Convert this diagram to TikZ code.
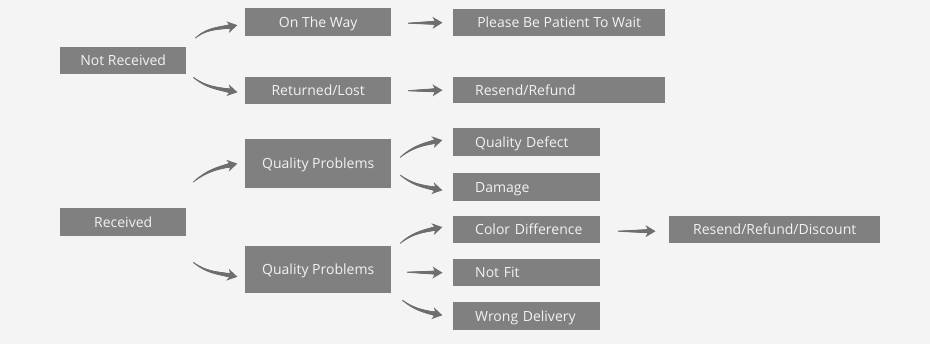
\documentclass[tikz,border=0pt]{standalone}
\usepackage{fontspec}
\setmainfont{Open Sans}
\usetikzlibrary{calc,decorations.markings}
\definecolor{bg}{RGB}{244,244,244}
\definecolor{boxgray}{RGB}{128,128,128}
\definecolor{arrowgray}{RGB}{110,110,110}
\definecolor{txt}{RGB}{242,242,242}
\tikzset{
  box/.style={fill=boxgray, text=txt, inner sep=0pt, anchor=north west,
    text height=10.5pt, text depth=0.5pt,
    font=\fontsize{14}{16}\selectfont},
  lbox/.style={box, align=left, inner xsep=0pt},
  tap/.style={postaction={decorate, decoration={markings,
    mark=between positions 0 and -6pt step 0.4pt with {%
      \pgfmathsetmacro\tr{0.5+1.9*\pgfkeysvalueof{/pgf/decoration/mark info/distance from start}/\pgfdecoratedpathlength}%
      \fill[arrowgray] (0,0) circle (\tr pt);},
    mark=at position 1 with {\fill[arrowgray] (0.5,0) -- (-9.5,6) -- (-6.5,0) -- (-9.5,-6) -- cycle;}
  }}}
}
\begin{document}
\begin{tikzpicture}[x=1pt,y=-1pt]
\fill[bg] (0,0) rectangle (930,344);
\useasboundingbox (0,0) rectangle (930,344);
% boxes
\node[box, minimum width=126, minimum height=27] (nr) at (60,47) {Not Received};
\node[box, minimum width=146, minimum height=28] (otw) at (245,8) {On The Way};
\node[box, minimum width=146, minimum height=27] (rl) at (245,77) {Returned/Lost};
\node[box, minimum width=212, minimum height=27] (pbp) at (453,9) {Please Be Patient To Wait};
\node[lbox, text width=212, minimum height=26] (rr) at (453,77) {\hspace*{22pt}Resend/Refund};
\node[box, minimum width=146, minimum height=49] (qp1) at (245,139) {Quality Problems};
\node[box, minimum width=126, minimum height=28] (rcv) at (60,208) {Received};
\node[box, minimum width=146, minimum height=47] (qp2) at (245,246) {Quality Problems};
\node[lbox, text width=147, minimum height=28] (qd) at (453,128) {\hspace*{22pt}Quality Defect};
\node[lbox, text width=147, minimum height=28] (dm) at (453,173) {\hspace*{22pt}Damage};
\node[lbox, text width=147, minimum height=27] (cd) at (453,216) {\hspace*{22pt}Color Difference};
\node[lbox, text width=147, minimum height=27] (nf) at (453,259) {\hspace*{22pt}Not Fit};
\node[lbox, text width=147, minimum height=28] (wd) at (453,302) {\hspace*{22pt}Wrong Delivery};
\node[box, minimum width=211, minimum height=27] (rrd) at (669,216) {Resend/Refund/Discount};
% arrows
\path[tap] ($(nr.north east)+(9,-9)$) to[out=40,in=192] ($(otw.west)+(-8,3)$);
\path[tap] ($(nr.south east)+(7,3)$) to[out=-38,in=168] ($(rl.west)+(-8,1.5)$);
\path[tap] ($(otw.east)+(17,1)$) -- ($(pbp.west)+(-11,0)$);
\path[tap] ($(rl.east)+(17,0)$) -- ($(rr.west)+(-11,0)$);
\path[tap] ($(rcv.north east)+(7,-26)$) to[out=40,in=192] ($(qp1.west)+(-8,0)$);
\path[tap] ($(rcv.south east)+(7,26)$) to[out=-38,in=168] ($(qp2.west)+(-8,7)$);
\path[tap] ($(qp1.east)+(9,-6.5)$) to[out=40,in=192] ($(qd.west)+(-11,-2)$);
\path[tap] ($(qp1.east)+(9,11.5)$) to[out=-38,in=168] ($(dm.west)+(-11,3)$);
\path[tap] ($(qp2.east)+(9,-26.5)$) to[out=40,in=192] ($(cd.west)+(-11,-2.5)$);
\path[tap] ($(qp2.east)+(16,2.5)$) -- ($(nf.west)+(-11,0)$);
\path[tap] ($(qp2.east)+(11,30.5)$) to[out=-38,in=168] ($(wd.west)+(-11,-1)$);
\path[tap] ($(cd.east)+(18,1.5)$) -- ($(rrd.west)+(-14,1.5)$);
\end{tikzpicture}
\end{document}
